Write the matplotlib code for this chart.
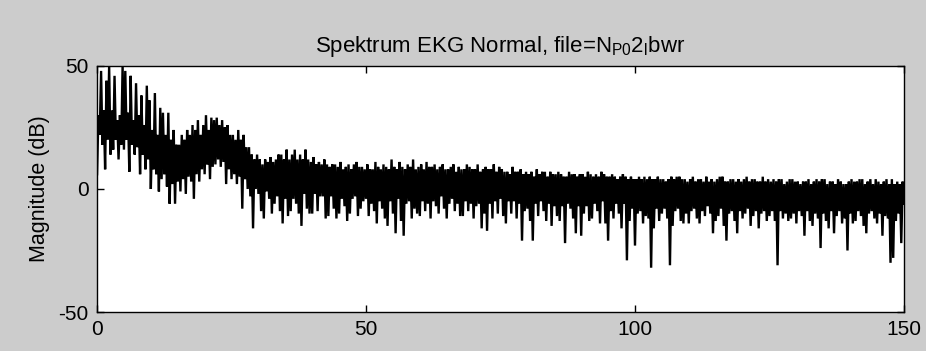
import numpy as np
import matplotlib.pyplot as plt

# Spectrum magnitude (dB) at 0.25 Hz steps
# (values alternate between the lower and upper edge of the dense band)
df = 0.25
mag_0_25 = [6, 30, 22, 48, 18, 32, 8, 44, 20, 50, 14, 32, 16, 46, 20, 28,
            12, 30, 18, 50, 16, 48, 20, 31, 7, 46, 18, 28, 14, 43, 17, 30,
            6, 38, 14, 26, 8, 42, 12, 36, 0, 24, 8, 39, 6, 22, -1, 33,
            4, 31, 6, 22, 1, 31, -6, 20, 2, 24, -6, 18, 3, 18, -1, 22,
            4, 20, -2, 24, 5, 22, 3, 26, -4, 24, 6, 28, 3, 22, 8, 26,
            6, 30, 10, 24, 4, 29, 9, 28, 10, 29, 12, 26, 9, 28, 11, 25,
            2, 26, 8, 22]
mag_25_50 = [4, 22, 6, 20, 2, 24, 5, 20, -8, 22, 4, 17, 0, 17, -3, 14,
             -16, 12, 0, 14, -2, 12, -9, 10, -12, 12, -1, 11, -4, 13, -10, 11,
             -6, 12, -3, 14, -9, 14, -14, 12, -4, 16, -11, 12, -9, 14, -4, 16,
             -6, 12, -10, 14, -15, 12, -2, 16, -8, 12, -10, 11, -10, 13, -2, 10,
             -9, 11, -3, 10, -3, 12, -12, 10, -11, 9, -3, 10, -8, 10, -12, 9,
             -10, 11, -4, 8, -7, 9, -13, 10, -10, 8, -4, 10, -3, 11, -11, 9,
             -8, 9, -5, 8]
mag_50_75 = [-4, 10, -11, 8, -6, 8, -9, 11, -14, 9, -5, 8, -8, 10, -12, 9,
             -15, 8, -5, 12, -10, 9, -18, 8, -4, 11, -13, 9, -19, 8, -6, 10,
             -5, 9, -12, 12, -8, 8, -10, 9, -11, 10, -5, 8, -9, 11, -6, 9,
             -12, 9, -5, 10, -7, 8, -10, 9, -3, 10, -8, 8, -12, 8, -6, 9,
             -4, 10, -9, 7, -6, 9, -11, 8, -11, 8, -5, 10, -9, 9, -6, 8,
             -12, 8, -7, 10, -6, 7, -16, 8, -10, 9, -17, 8, -6, 8, -12, 10,
             -5, 7, -10, 9]
mag_75_100 = [-4, 8, -11, 7, -14, 7, -5, 6, -10, 9, -5, 7, -12, 7, -6, 8,
              -21, 6, -9, 7, -8, 6, -13, 7, -21, 5, -6, 8, -11, 6, -5, 7,
              -9, 7, -13, 5, -6, 7, -15, 6, -7, 6, -11, 7, -13, 6, -7, 5,
              -22, 5, -6, 7, -8, 6, -12, 6, -18, 5, -7, 6, -19, 6, -10, 5,
              -7, 7, -13, 6, -12, 5, -6, 6, -9, 5, -14, 7, -5, 6, -14, 5,
              -21, 5, -9, 6, -12, 5, -6, 4, -10, 5, -16, 6, -6, 5, -29, 4,
              -13, 5, -8, 4]
mag_100_125 = [-23, 4, -10, 5, -9, 4, -14, 5, -11, 4, -12, 5, -32, 4, -16, 4,
               -8, 5, -13, 4, -10, 4, -8, 3, -12, 4, -31, 5, -15, 4, -9, 5,
               -8, 5, -13, 4, -14, 4, -10, 3, -14, 4, -9, 5, -8, 3, -12, 4,
               -14, 4, -9, 3, -11, 5, -7, 3, -10, 4, -18, 3, -13, 4, -11, 5,
               -8, 5, -15, 3, -21, 3, -10, 4, -9, 4, -13, 3, -18, 4, -9, 3,
               -12, 4, -10, 5, -8, 3, -15, 4, -11, 4, -9, 3, -16, 3, -10, 5,
               -9, 3, -13, 4]
mag_125_150 = [-11, 3, -9, 4, -13, 3, -31, 4, -9, 4, -12, 2, -10, 3, -13, 4,
               -12, 4, -10, 3, -14, 3, -9, 2, -11, 3, -19, 3, -9, 4, -13, 2,
               -15, 3, -10, 4, -12, 3, -24, 4, -10, 4, -13, 2, -16, 3, -9, 3,
               -18, 2, -11, 4, -9, 3, -14, 2, -12, 2, -25, 3, -10, 4, -14, 3,
               -13, 3, -9, 4, -11, 4, -15, 2, -18, 3, -10, 4, -9, 2, -12, 4,
               -14, 3, -10, 2, -19, 3, -11, 4, -12, 2, -30, 4, -28, 2, -13, 3,
               -10, 2, -22, 3, -6]

mag = np.array(mag_0_25 + mag_25_50 + mag_50_75 + mag_75_100
               + mag_100_125 + mag_125_150, dtype=float)
freq = np.arange(len(mag)) * df

xticks = [0, 50, 100, 150]
yticks = [-50, 0, 50]

plt.rcParams['font.family'] = ['Liberation Sans', 'DejaVu Sans']
plt.rcParams['axes.unicode_minus'] = False

fig = plt.figure(figsize=(9.26, 3.51), dpi=100, facecolor='#cccccc')
ax = fig.add_axes([0.1048, 0.1111, 0.8714, 0.7009])
ax.set_facecolor('white')

ax.plot(freq, mag, color='black', linewidth=1.7, solid_joinstyle='miter')

ax.set_xlim(0, 150)
ax.set_ylim(-50, 50)
ax.set_xticks(xticks)
ax.set_yticks(yticks)
ax.tick_params(direction='in', length=5, width=1, labelsize=15,
               top=True, right=True, pad=6)
for s in ax.spines.values():
    s.set_linewidth(1)

ax.set_ylabel('Magnitude (dB)', fontsize=15.5, labelpad=6)
ax.set_title(r'Spektrum EKG Normal, file=N$_{\mathregular{P0}}$2$_{\mathregular{l}}$bwr',
             fontsize=16, pad=10)

fig.savefig('out.png', dpi=100, facecolor=fig.get_facecolor())
